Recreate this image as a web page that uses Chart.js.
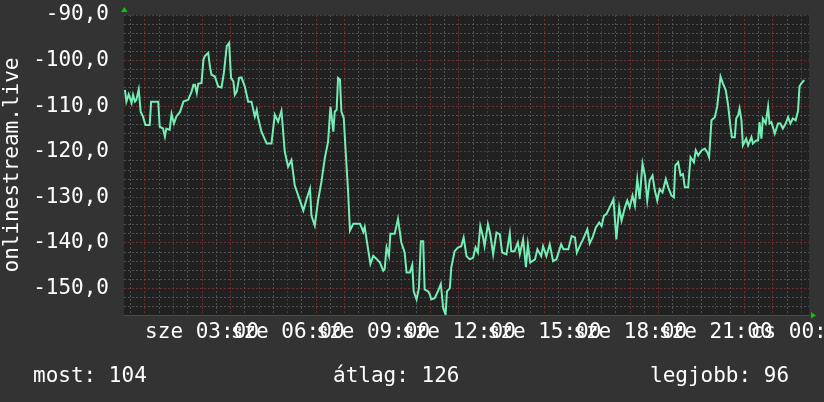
<!DOCTYPE html>
<html>
<head>
<meta charset="utf-8">
<script src="https://cdn.jsdelivr.net/npm/chart.js@4.4.1/dist/chart.umd.min.js"></script>
<style>
  body { margin: 0; background: #333; }
  #wrap { position: relative; width: 824px; height: 402px; }
  .leg { position: absolute; top: 363px; color: #fff; font: 21px 'DejaVu Sans Mono', monospace; line-height: 25px; white-space: pre; }
</style>
</head>
<body>
<div id="wrap">
  <canvas id="graph" width="824" height="402"></canvas>
  <div class="leg" id="leg0" style="left:33px"></div>
  <div class="leg" id="leg1" style="left:333px"></div>
  <div class="leg" id="leg2" style="left:650px"></div>
</div>
<script>
// percek éjfél óta (sze 00:00)
const minutes = [18, 21, 26, 32, 35, 39, 42, 47, 51, 56, 61, 70, 73, 88, 91, 98, 102, 105, 112, 116,
  121, 126, 134, 141, 151, 158, 162, 165, 169, 172, 179, 183, 186, 193, 197, 200, 207, 214, 221, 226,
  232, 237, 241, 246, 249, 253, 258, 263, 270, 277, 284, 291, 295, 298, 305, 316, 326, 333, 340, 347,
  354, 361, 368, 375, 386, 393, 400, 407, 410, 417, 424, 431, 438, 445, 450, 456, 459, 463, 466, 470,
  473, 478, 482, 487, 491, 498, 512, 515, 519, 522, 529, 534, 540, 547, 554, 561, 564, 568, 573, 576,
  585, 592, 599, 606, 610, 617, 622, 625, 631, 636, 640, 645, 648, 655, 659, 662, 669, 676, 682, 687,
  692, 695, 701, 704, 711, 718, 725, 730, 736, 743, 750, 755, 760, 765, 771, 774, 781, 786, 792, 799,
  806, 811, 820, 827, 830, 837, 844, 848, 855, 861, 865, 870, 880, 885, 893, 897, 904, 911, 918, 925,
  935, 940, 950, 957, 964, 968, 974, 981, 990, 995, 1001, 1008, 1015, 1020, 1025, 1030, 1037, 1045, 1051, 1057,
  1062, 1069, 1074, 1079, 1085, 1090, 1095, 1100, 1106, 1111, 1116, 1121, 1127, 1132, 1137, 1142, 1148, 1155, 1160, 1167,
  1172, 1175, 1181, 1186, 1191, 1195, 1202, 1207, 1214, 1218, 1223, 1230, 1237, 1242, 1246, 1251, 1258, 1263, 1270, 1275,
  1281, 1286, 1291, 1294, 1300, 1303, 1307, 1310, 1314, 1317, 1324, 1328, 1335, 1338, 1345, 1349, 1352, 1356, 1359, 1365,
  1370, 1373, 1377, 1384, 1391, 1396, 1401, 1407, 1412, 1417, 1422, 1428, 1433, 1436, 1440, 1446];

const values = [-106.4, -109.0, -107.4, -109.3, -107.5, -109.0, -108.6, -106.3, -111.2, -112.3, -114.1, -114.1, -109.0, -109.0, -114.5, -114.9, -116.7, -114.9, -115.2, -111.7,
  -113.8, -112.3, -111.2, -109.0, -108.6, -106.8, -105.3, -105.3, -107.1, -105.1, -104.9, -99.8, -99.0, -98.3, -101.6, -103.1, -103.5, -105.7, -105.9, -102.7,
  -96.8, -96.1, -103.8, -104.6, -107.5, -106.8, -103.8, -103.7, -105.7, -109.0, -109.0, -112.3, -110.8, -112.6, -115.6, -118.2, -118.2, -111.9, -113.4, -111.0,
  -120.0, -123.3, -121.8, -127.4, -130.7, -132.9, -130.3, -128.1, -134.0, -136.2, -130.7, -126.6, -121.5, -117.8, -110.1, -115.6, -111.2, -110.8, -103.8, -104.2,
  -111.2, -112.6, -120.0, -128.5, -137.3, -135.8, -135.8, -136.5, -137.6, -136.5, -141.3, -144.6, -142.8, -143.5, -144.3, -146.1, -145.7, -141.0, -142.8, -138.0,
  -138.0, -134.7, -139.9, -142.1, -146.5, -146.5, -144.8, -150.6, -152.4, -149.9, -139.6, -139.6, -150.2, -150.6, -151.3, -152.4, -152.1, -150.6, -149.0, -154.3,
  -155.7, -150.6, -149.9, -145.4, -141.8, -141.0, -140.7, -138.8, -142.9, -143.6, -143.2, -141.0, -142.1, -136.3, -138.8, -140.7, -135.9, -138.1, -142.5, -137.7,
  -138.1, -142.1, -142.5, -137.9, -141.8, -141.8, -139.9, -142.5, -139.2, -145.3, -140.3, -144.3, -143.6, -141.4, -142.9, -140.7, -142.9, -140.3, -144.0, -143.6,
  -140.3, -141.4, -141.4, -138.5, -138.8, -142.1, -140.7, -139.2, -137.0, -140.1, -138.8, -136.6, -135.5, -136.3, -134.0, -133.7, -132.2, -130.4, -139.2, -132.2,
  -135.1, -132.2, -130.7, -132.2, -129.6, -131.8, -126.0, -130.4, -122.6, -125.2, -130.7, -126.3, -125.2, -128.5, -130.7, -128.2, -128.9, -126.0, -127.8, -129.6,
  -130.0, -123.0, -122.3, -125.2, -124.9, -127.8, -127.8, -121.2, -122.3, -119.7, -120.8, -119.7, -119.3, -120.1, -121.2, -113.1, -112.4, -110.1, -103.5, -105.0,
  -106.5, -109.8, -114.6, -116.8, -116.8, -112.7, -112.0, -110.5, -113.1, -118.6, -117.1, -118.6, -116.8, -118.2, -117.5, -117.5, -113.5, -117.1, -112.7, -113.8,
  -110.1, -113.8, -113.5, -116.0, -113.8, -113.8, -114.9, -113.8, -112.4, -113.8, -112.7, -113.1, -111.0, -105.7, -105.0, -104.3];

const labelMinutes = [180, 360, 540, 720, 900, 1080, 1260, 1440];
const tickLabels = ['sze 03:00', 'sze 06:00', 'sze 09:00', 'sze 12:00', 'sze 15:00', 'sze 18:00', 'sze 21:00', 'cs 00:00'];
const legendText = ['most: 104', 'átlag: 126', 'legjobb: 96'];

legendText.forEach((t, i) => { document.getElementById('leg' + i).textContent = t; });

const FONT = { family: "'DejaVu Sans Mono', monospace", size: 21 };
const RED = 'rgba(140, 48, 48, 0.75)';
const GRAY = 'rgba(105, 105, 105, 0.65)';

// háttér és a zöld nyilak
const rrdFrame = {
  id: 'rrdFrame',
  beforeDraw(chart) {
    const { ctx, chartArea: a } = chart;
    ctx.save();
    ctx.fillStyle = '#212121';
    ctx.fillRect(a.left, a.top, a.right - a.left, a.bottom - a.top);
    ctx.restore();
  },
  afterDraw(chart) {
    const { ctx, chartArea: a } = chart;
    ctx.save();
    ctx.fillStyle = '#00cc00';
    ctx.beginPath();
    ctx.moveTo(a.left - 3, a.top - 3);
    ctx.lineTo(a.left + 3.5, a.top - 3);
    ctx.lineTo(a.left + 0.5, a.top - 8);
    ctx.fill();
    ctx.beginPath();
    ctx.moveTo(a.right + 2, a.bottom - 3);
    ctx.lineTo(a.right + 2, a.bottom + 3.5);
    ctx.lineTo(a.right + 7, a.bottom + 0.5);
    ctx.fill();
    ctx.restore();
  }
};

new Chart(document.getElementById('graph'), {
  type: 'line',
  data: {
    datasets: [{
      data: minutes.map((m, i) => ({ x: m, y: values[i] })),
      borderColor: '#74eeb6',
      borderWidth: 2,
      pointRadius: 0,
      tension: 0,
      fill: false
    }]
  },
  options: {
    responsive: false,
    animation: false,
    layout: { padding: { top: 15, right: 15, left: 0, bottom: 0 } },
    plugins: { legend: { display: false }, tooltip: { enabled: false } },
    scales: {
      x: {
        type: 'linear',
        min: 16,
        max: 1456,
        afterBuildTicks(scale) {
          const t = [];
          for (let m = 30; m <= 1440; m += 30) t.push({ value: m });
          scale.ticks = t;
        },
        afterFit(scale) {
          scale.height = 87;
          scale.paddingLeft = 0;
          scale.paddingRight = 0;
        },
        grid: {
          color: c => (c.tick && c.tick.value % 60 === 0 ? RED : GRAY),
          lineWidth: 1,
          drawTicks: false
        },
        border: { display: true, color: '#4a4a4a', dash: [2, 2] },
        ticks: {
          autoSkip: false,
          maxRotation: 0,
          minRotation: 0,
          padding: 5,
          color: '#ffffff',
          font: FONT,
          callback: v => {
            const i = labelMinutes.indexOf(v);
            return i >= 0 ? tickLabels[i] : '';
          }
        }
      },
      y: {
        min: -155.8,
        max: -90,
        afterBuildTicks(scale) {
          const t = [];
          for (let v = -154; v <= -90; v += 2) t.push({ value: v });
          scale.ticks = t;
        },
        afterFit(scale) {
          scale.width = 124;
          scale.paddingTop = 0;
          scale.paddingBottom = 0;
        },
        grid: {
          color: c => (c.tick && c.tick.value % 10 === 0 ? RED : GRAY),
          lineWidth: 1,
          drawTicks: false
        },
        border: { display: false, dash: [2, 2] },
        title: {
          display: true,
          text: 'onlinestream.live',
          color: '#ffffff',
          font: FONT,
          padding: { top: 0, bottom: 0 }
        },
        ticks: {
          autoSkip: false,
          padding: 15,
          color: '#ffffff',
          font: FONT,
          callback: v => (v % 10 === 0 ? v.toFixed(1).replace('.', ',') : '')
        }
      }
    }
  },
  plugins: [rrdFrame]
});
</script>
</body>
</html>
